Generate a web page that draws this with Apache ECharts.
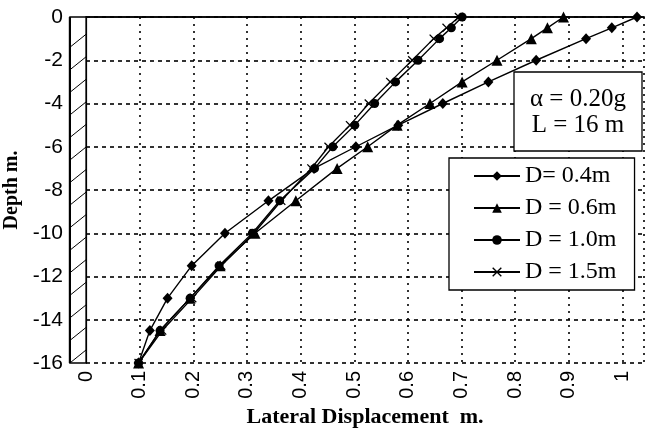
<!DOCTYPE html>
<html>
<head>
<meta charset="utf-8">
<script src="https://cdn.jsdelivr.net/npm/echarts@6/dist/echarts.min.js"></script>
<style>html,body{margin:0;padding:0;background:#fff}#c{width:648px;height:435px}</style>
</head>
<body>
<div id="c"></div>
<script>
// ---- data ----
const depths = [0, -0.5, -1, -2, -3, -4, -5, -6, -7, -8.5, -10, -11.5, -13, -14.5, -16];
const disp04 = [1.027, 0.98, 0.932, 0.839, 0.75, 0.665, 0.582, 0.503, 0.425, 0.34, 0.259, 0.197, 0.152, 0.119, 0.098];
const disp06 = [0.89, 0.86, 0.83, 0.766, 0.701, 0.641, 0.58, 0.525, 0.468, 0.391, 0.315, 0.25, 0.194, 0.138, 0.098];
const disp10 = [0.701, 0.681, 0.659, 0.619, 0.577, 0.538, 0.501, 0.46, 0.426, 0.361, 0.31, 0.248, 0.194, 0.138, 0.098];
const disp15 = [0.695, 0.672, 0.648, 0.608, 0.567, 0.527, 0.492, 0.452, 0.42, 0.364, 0.313, 0.252, 0.198, 0.142, 0.098];
const seriesNames = ['D= 0.4m', 'D = 0.6m', 'D = 1.0m', 'D = 1.5m'];
const annotationLines = ['α = 0.20g', 'L = 16 m'];
const xName = 'Lateral Displacement  m.';
const yName = 'Depth m.';
const wallX = -0.03; // left face of wall (data units)

const pair = (xs) => xs.map((x, i) => [x, depths[i]]);
const xSym = 'path://M0,1 L1,0 L5,4 L9,0 L10,1 L6,5 L10,9 L9,10 L5,6 L1,10 L0,9 L4,5 Z';
const symbols = ['diamond', 'triangle', 'circle', xSym];
const symSizes = [[10, 11], 11, 9, 9];
const allData = [disp04, disp06, disp10, disp15];

const chart = echarts.init(document.getElementById('c'), null, {renderer: 'canvas'});

const lineSeries = allData.map((d, i) => ({
  name: seriesNames[i],
  type: 'line',
  data: pair(d),
  symbol: symbols[i],
  symbolSize: symSizes[i],
  showAllSymbol: true,
  lineStyle: {color: '#000', width: 1.4},
  itemStyle: {color: '#000'},
  z: 4
}));

const wallSeries = {
  type: 'custom',
  silent: true,
  clip: false,
  z: 3,
  data: [[0, 0]],
  renderItem: function (params, api) {
    const tl = api.coord([wallX, 0]);
    const br = api.coord([0, -16]);
    const children = [
      {type: 'rect', shape: {x: tl[0], y: tl[1], width: br[0] - tl[0], height: br[1] - tl[1]},
       style: {fill: '#fff', stroke: '#000', lineWidth: 1.3}},
      {type: 'line', shape: {x1: tl[0], y1: tl[1], x2: tl[0], y2: br[1]},
       style: {stroke: '#000', lineWidth: 2.2}}
    ];
    for (let k = 0; k < 15; k++) {
      const yr = -0.8 - k * (14.6 / 14);
      const yl = yr - 0.6;
      const a = api.coord([wallX, yl]);
      const b = api.coord([0, yr]);
      children.push({type: 'line', shape: {x1: a[0], y1: a[1], x2: b[0], y2: b[1]},
        style: {stroke: '#000', lineWidth: 1}});
    }
    return {type: 'group', children: children};
  }
};

chart.setOption({
  animation: false,
  backgroundColor: '#fff',
  grid: {left: 86, right: 4, top: 17, bottom: 72, containLabel: false, outerBoundsMode: 'none'},
  xAxis: [{
    type: 'value', min: 0, max: 1.04, interval: 0.1, position: 'bottom',
    name: xName, nameLocation: 'middle', nameGap: 40,
    nameTextStyle: {fontFamily: 'Liberation Serif', fontWeight: 'bold', fontSize: 22, color: '#000'},
    axisLine: {show: true, lineStyle: {color: '#000', width: 1.5}},
    axisTick: {show: false},
    axisLabel: {
      rotate: 90, margin: 8, color: '#000', fontFamily: 'Liberation Sans', fontSize: 20,
      formatter: function (v) {
        const r = Math.round(v * 10);
        if (Math.abs(v * 10 - r) > 1e-6) return '';
        return r === 10 ? '1' : (r === 0 ? '0' : (r / 10).toString());
      }
    },
    splitLine: {show: true, lineStyle: {color: '#000', type: [2, 5], width: 1.6}}
  }, {
    type: 'value', min: 0, max: 1.04, position: 'top',
    axisLine: {show: true, lineStyle: {color: '#000', width: 1.5}},
    axisTick: {show: false}, axisLabel: {show: false}, splitLine: {show: false}
  }],
  yAxis: {
    type: 'value', min: -16, max: 0, interval: 2,
    name: yName, nameLocation: 'middle', nameGap: 60,
    nameTextStyle: {fontFamily: 'Liberation Serif', fontWeight: 'bold', fontSize: 20, color: '#000'},
    axisLine: {show: true, lineStyle: {color: '#000', width: 1.2}},
    axisTick: {show: false},
    axisLabel: {margin: 23, color: '#000', fontFamily: 'Liberation Sans', fontSize: 21},
    splitLine: {show: true, lineStyle: {color: '#000', type: [4, 4], width: 1.6}}
  },
  legend: {
    orient: 'vertical', left: 449, top: 158,
    padding: [6, 18, 6, 24], itemGap: 8, itemWidth: 46, itemHeight: 12,
    backgroundColor: '#fff', borderColor: '#000', borderWidth: 1.3, borderRadius: 0,
    textStyle: {fontFamily: 'Liberation Serif', fontSize: 24, color: '#000'},
    data: seriesNames
  },
  graphic: [
    {type: 'rect', z: 10, shape: {x: 514, y: 72, width: 128, height: 79},
     style: {fill: '#ffffff', stroke: '#000000', lineWidth: 1.3}},
    {type: 'text', z: 11, x: 578, y: 99, style: {text: annotationLines[0], font: '25px "Liberation Serif"', fill: '#000', align: 'center', verticalAlign: 'middle'}},
    {type: 'text', z: 11, x: 578, y: 125, style: {text: annotationLines[1], font: '25px "Liberation Serif"', fill: '#000', align: 'center', verticalAlign: 'middle'}}
  ],
  series: [wallSeries].concat(lineSeries)
});
</script>
</body>
</html>
